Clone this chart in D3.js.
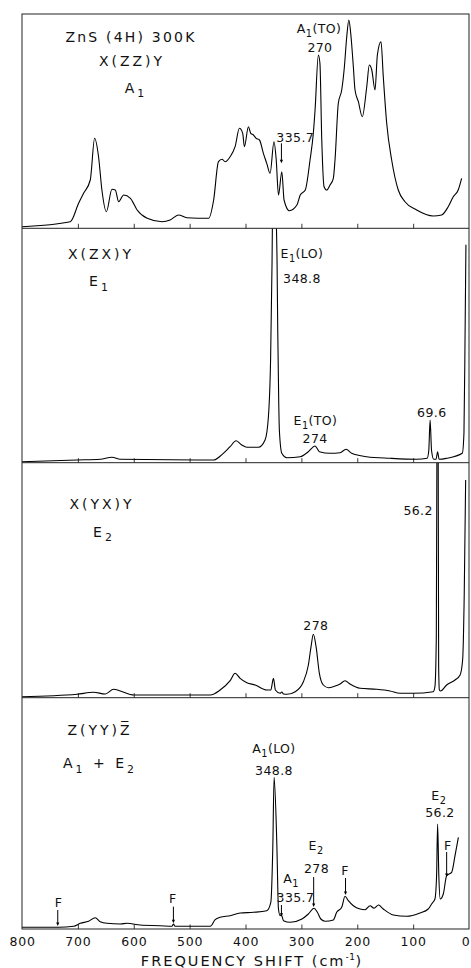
<!DOCTYPE html>
<html><head><meta charset="utf-8">
<script src="https://cdn.jsdelivr.net/npm/d3@7"></script>
<style>
body{margin:0;background:#fff}
svg{display:block}
text{font-family:"DejaVu Sans",sans-serif;fill:#111}
</style>
</head><body>
<svg id="chart" width="471" height="968"></svg>
<script>
// ---------- DATA ----------
const xTickValues = [800,700,600,500,400,300,200,100,0];
const xTitle = "FREQUENCY SHIFT (cm";
const xTitleSup = "-1";

// spectra: [frequency shift (cm^-1), intensity (arb. units)]
const spectrumZZ = [[800,1.6],[713.6,6.6],[698.7,25],[689.8,35],[677.8,48.3],[670,90],[663,71.6],[657,38.3],[649,16.6],[639,39],[633,38.3],[627,26.6],[618,33.3],[606,30],[594,18.3],[576,10],[549.6,6.6],[534.8,8.3],[520,13.3],[505,10.6],[466,10],[457,28.3],[448.4,66.6],[442,69],[436.4,66.6],[427.5,71.6],[418.6,81.6],[410.9,100],[405,95],[402,81.6],[394.8,101.6],[390.6,95],[385.8,93.3],[381,90],[375,88.3],[368,75],[362,65],[356,55],[349,86.6],[345,68.3],[341,33.3],[335,56.6],[331,28.3],[321.5,17.6],[308,23.3],[302,33.3],[293,38.3],[284.5,68.3],[278.6,95],[275.5,118.3],[269.6,173.3],[266.8,165],[263.5,88.3],[259.4,41.6],[254.6,38.3],[248.7,43.3],[242.8,50],[239.8,68.3],[233.9,125],[227.8,138.3],[223,161.6],[218.8,191.6],[215,208.3],[211.7,195],[207,161.6],[204,138.3],[198,126.6],[191,111.6],[183,141.6],[178.4,163.3],[174,158.3],[168.2,138.3],[164,173.3],[157.5,186.6],[153.4,151.6],[147.3,105],[138.4,68.3],[126.6,38.3],[114.6,26.6],[93.7,18.3],[64,12.3],[49,13.3],[37.2,21.6],[28.2,31.6],[19.3,38.3],[13.2,50]];

const spectrumZX = [[800,1],[701.6,2.7],[660,3.4],[639,5.4],[624,3.4],[457,2.7],[445,6.7],[427.5,16],[416.8,22],[406.6,17.7],[397.6,15.4],[377,15.4],[365,22.7],[359,46],[355,106],[352.5,200],[351.5,260],[348.8,420],[345.5,260],[343.5,200],[342.3,132.7],[340.5,60],[339.4,32.7],[335,9.4],[326,5],[302,6],[287.5,11],[275.5,16.7],[267.8,11],[248.7,9.4],[230.8,10],[220,13.4],[210,9.4],[183,6],[141.4,4.4],[93.7,3.4],[75,4.4],[72,12],[69.6,42.7],[67,12],[63,3.4],[59,3.4],[56.2,11],[53.5,3.4],[40,4.4],[12,9.4],[9,30],[7,130],[5.5,218]];

const spectrumYX = [[800,1],[701.6,3.4],[672,5.4],[651,3.7],[636,8.4],[624,6.7],[600,2.7],[463,2.7],[445.4,7.7],[427.5,17],[418.6,24.4],[409.6,19.4],[397.6,15],[382.8,12.7],[362,7.7],[354.7,7.7],[350,19.4],[346.5,7.7],[338,4.4],[335,5.7],[332,3.7],[326,3.4],[311,6],[296.4,16],[287.5,32.7],[282.7,51],[278.6,63.4],[273.7,51],[267.8,24.4],[260.7,12.7],[251.7,10],[239.8,11.7],[230.8,13.7],[221.9,17],[213,13.7],[195,9.4],[165,8.4],[141.4,6.7],[123.5,4.4],[99.8,4.4],[64,6],[61,11],[58.5,60],[57.2,300],[56.2,450],[55.3,300],[54.3,30],[53,7.7],[50.8,6.7],[40,12.7],[25,17.7],[16,22.7],[11.4,37.7],[8.5,104.4],[6,217.7]];

const spectrumYY = [[800,1.7],[734.5,1.7],[707.7,2.7],[695.7,5.7],[680.8,7.7],[668.9,11.3],[660,7.3],[648,5.7],[624,5],[612,5.7],[588.4,4],[552.7,3.3],[531.7,2.7],[528.9,5],[526,2.7],[463,2.7],[454.3,9.3],[445.4,11.7],[427.5,13.3],[409.6,16],[385.8,16.7],[362,18.3],[354.7,26.7],[351.2,80],[348.8,151.7],[344,86.7],[341,20],[338,13.3],[335.7,14],[332,8.3],[320,6.7],[299,10],[287.5,15],[277.3,20.7],[271.4,16.7],[265.3,10],[257.6,7.7],[242.8,9],[236.8,16.7],[227.8,21.7],[221.9,32.7],[216,28.3],[207,23.3],[195,20],[186,19.3],[177,23.3],[170,20.7],[162,24],[153.4,20],[135.5,14],[111.6,12.7],[87.8,16],[73,20],[66.9,25],[61,30],[58,53.3],[56.2,105],[54,53.3],[51.5,30],[46,35],[40,53.3],[31,56.7],[25,73.3],[19,91.7]];

// panel titles ("_" marks a one-character subscript)
const panelTitles = [
  ["ZnS (4H) 300K","X(ZZ)Y","A_1"],
  ["X(ZX)Y","E_1"],
  ["X(YX)Y","E_2"],
  ["Z(YY)Z\u0305","A_1 + E_2"]
];
// peak annotations: panel, label, frequency, intensity of label baseline
const peakLabels = [
  [0,"A_1(TO)",268.4,195.3],[0,"270",266.8,176.3],[0,"335.7",311,86.3],
  [1,"E_1(LO)",299,204.4],[1,"348.8",299,179.4],[1,"E_1(TO)",274.8,37.7],[1,"274",275.5,19.4],[1,"69.6",66.5,46],
  [2,"56.2",64.7,182.7],[2,"278",274,67.7],
  [3,"A_1(LO)",349,175.7],[3,"348.8",349,154],[3,"E_2",273.7,79],[3,"278",273,55.7],
  [3,"A_1",318.6,45.7],[3,"335.7",310.6,27.3],[3,"F",222,54],[3,"F",734.6,22.3],
  [3,"F",530,25.7],[3,"E_2",54,129],[3,"56.2",52,112.3],[3,"F",37.8,79]
];
// arrows: panel, frequency, intensity start, intensity end (tip)
const arrows = [
  [0,335.7,85,65],
  [3,278,52,22],[3,335.7,24,12.3],[3,221,51,34],[3,736,19,3],[3,529,22.3,5.7],[3,40,77,52]
];

// ---------- LAYOUT ----------
const svg = d3.select("#chart");
const X0 = 22, X1 = 469;
const edges = [14, 228.3, 462.7, 697.7, 929];
const titleLayout = [
  [[131,28],[132,51.5],[136,79]],
  [[101,31],[100,58]],
  [[102,46.6],[104,74]],
  [[100,37.3],[100,70.6]]
];
const x = d3.scaleLinear().domain([800,0]).range([X0,X1]);
const spectra = [spectrumZZ, spectrumZX, spectrumYX, spectrumYY];

function richText(sel, str, fs){
  const parts = [];
  for (let i=0;i<str.length;i++){
    if (str[i]==="_" && i+1<str.length){ parts.push({t:str[i+1],sub:true}); i++; }
    else {
      if (parts.length && !parts[parts.length-1].sub) parts[parts.length-1].t += str[i];
      else parts.push({t:str[i],sub:false});
    }
  }
  let shifted = false;
  parts.forEach(p=>{
    const ts = sel.append("tspan").text(p.t);
    if (p.sub){ ts.attr("font-size", fs*0.78).attr("dy", fs*0.3); shifted = true; }
    else if (shifted){ ts.attr("dy", -fs*0.3); shifted = false; }
  });
}

const ys = [];
spectra.forEach((data,i)=>{
  const top = edges[i], bot = edges[i+1];
  const y = d3.scaleLinear().domain([0, bot-top]).range([bot, top]);
  ys.push(y);
  const g = svg.append("g");
  const clipId = "clip"+i;
  svg.append("clipPath").attr("id",clipId).append("rect")
    .attr("x",X0).attr("y",top).attr("width",X1-X0).attr("height",bot-top);

  // inward ticks at panel bottom
  const ax = d3.axisBottom(x).tickValues(xTickValues.slice(1,-1)).tickSizeInner(-4.5).tickSizeOuter(0).tickFormat("");
  const axg = g.append("g").attr("transform",`translate(0,${bot})`).call(ax);
  axg.select(".domain").remove();
  axg.selectAll(".tick line").attr("stroke","#222").attr("stroke-width",0.9);

  const line = d3.line().x(d=>x(d[0])).y(d=>y(d[1])).curve(d3.curveMonotoneX);
  g.append("path").datum(data).attr("d",line).attr("clip-path",`url(#${clipId})`)
    .attr("fill","none").attr("stroke","#000").attr("stroke-width",1.1).attr("stroke-linejoin","round");

  // titles
  panelTitles[i].forEach((t,k)=>{
    const [cx,dy] = titleLayout[i][k];
    const tx = g.append("text").attr("x",cx).attr("y",top+dy).attr("text-anchor","middle")
      .attr("font-size",14).attr("letter-spacing",k===0&&i===0?2.2:3);
    richText(tx,t,14);
  });
});

// peak labels
peakLabels.forEach(([p,lab,f,I])=>{
  const tx = svg.append("text").attr("x",x(f)).attr("y",ys[p](I)).attr("text-anchor", p===2&&lab==="56.2"?"end":"middle")
    .attr("font-size",12.5).attr("letter-spacing",0.4);
  richText(tx,lab,12.5);
});

// arrows
arrows.forEach(([p,f,I0,I1])=>{
  const xx = x(f), y0 = ys[p](I0), y1 = ys[p](I1);
  svg.append("line").attr("x1",xx).attr("x2",xx).attr("y1",y0).attr("y2",y1-2).attr("stroke","#000").attr("stroke-width",1);
  svg.append("path").attr("d",`M${xx-1.6},${y1-3.5}L${xx+1.6},${y1-3.5}L${xx},${y1}Z`).attr("fill","#000");
});

// frame
svg.append("rect").attr("x",X0).attr("y",edges[0]).attr("width",X1-X0).attr("height",edges[4]-edges[0])
  .attr("fill","none").attr("stroke","#222").attr("stroke-width",1);
edges.slice(1,-1).forEach(e=>{
  svg.append("line").attr("x1",X0).attr("x2",X1).attr("y1",e).attr("y2",e).attr("stroke","#222").attr("stroke-width",1);
});

// bottom axis labels
const bottomAxis = d3.axisBottom(x).tickValues(xTickValues).tickSize(0).tickPadding(8.6).tickFormat(d3.format("d"));
const bag = svg.append("g").attr("transform",`translate(0,${edges[4]})`).call(bottomAxis);
bag.select(".domain").remove();
bag.selectAll("text").attr("font-size",12.5).attr("letter-spacing",0.8).attr("fill","#111")
  .attr("font-family","DejaVu Sans, sans-serif")
  .attr("dx", d => d===0 ? -3.5 : 0);

// axis title
const tt = svg.append("text").attr("x",252).attr("y",966).attr("text-anchor","middle")
  .attr("font-size",14.5).attr("letter-spacing",2);
tt.append("tspan").text(xTitle);
tt.append("tspan").text(xTitleSup).attr("font-size",9).attr("dy",-6).attr("letter-spacing",0.5);
tt.append("tspan").text(")").attr("dy",6);
</script>
</body></html>
